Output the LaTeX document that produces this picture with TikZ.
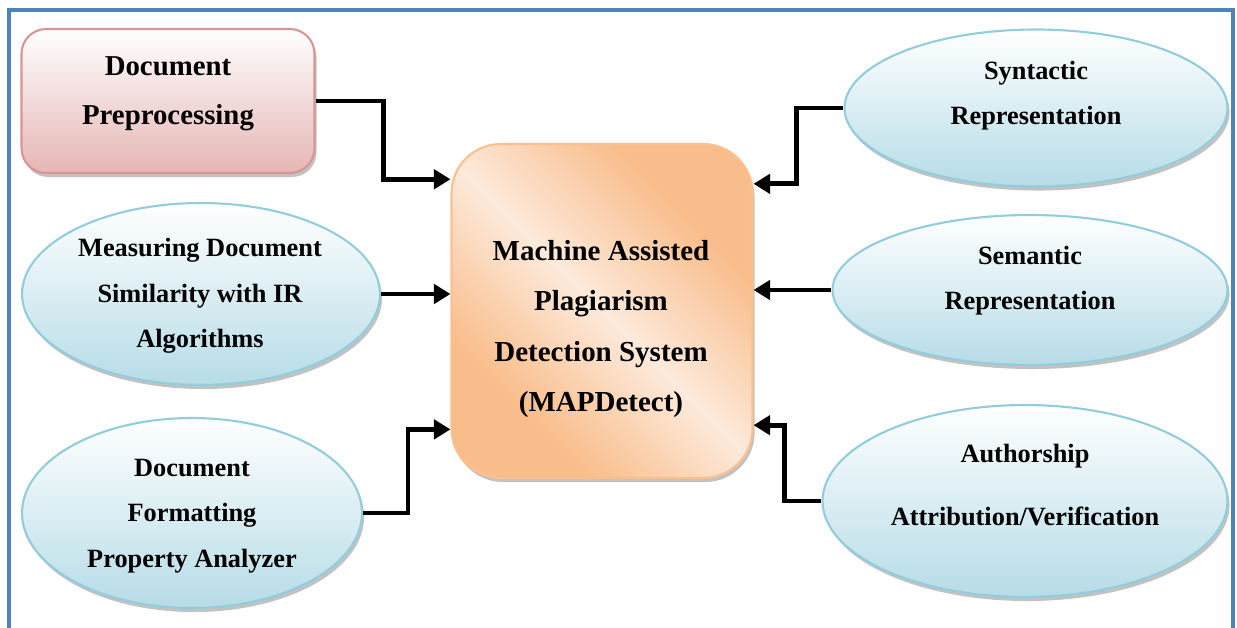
\documentclass[tikz,border=0pt]{standalone}
\usepackage{fontspec}
\setmainfont{Liberation Serif}
\usetikzlibrary{shapes.geometric,shadows,arrows.meta}

\definecolor{frameblue}{HTML}{4F81BD}
\definecolor{pinkline}{HTML}{D99594}
\definecolor{pinkfill}{HTML}{E5B6B5}
\definecolor{orangeline}{HTML}{FAC090}
\definecolor{orangedark}{HTML}{F9BD8B}
\definecolor{orangelight}{HTML}{FDEADB}
\definecolor{blueline}{HTML}{92CDDC}
\definecolor{bluefill}{HTML}{B6DCE7}

\pgfdeclarehorizontalshading{orangeband}{100bp}{%
  color(0bp)=(orangedark); color(30bp)=(orangedark);
  color(50bp)=(orangelight); color(70bp)=(orangedark);
  color(100bp)=(orangedark)}

\begin{document}
\begin{tikzpicture}[x=0.02cm, y=-0.02cm,
  shade/.style={drop shadow={shadow xshift=1.2pt, shadow yshift=-2.3pt,
                opacity=0.4, fill=black!60}},
  bluebubble/.style={ellipse, draw=blueline, line width=1.2pt,
                top color=white, bottom color=bluefill, shade},
  label/.style={align=center, font=\fontsize{15}{26}\selectfont\bfseries},
  biglabel/.style={align=center, font=\fontsize{16.5}{28.5}\selectfont\bfseries},
  link/.style={line width=2.8pt, -{Triangle[length=9.5pt,width=11pt]}}]
  \useasboundingbox (0,0) rectangle (1237,628);

  % Outer frame (open at the bottom)
  \draw[frameblue, line width=2pt] (9,628) -- (9,10) -- (1233,10) -- (1233,628);

  % Central system
  \node[rectangle, rounded corners=28pt, draw=orangeline, line width=1.2pt,
        shading=orangeband, shading angle=45, shade,
        minimum width=6.02cm, minimum height=6.68cm] (center) at (602,311) {};
  \node[biglabel] (center-txt) at (601,329)
        {Machine Assisted\\Plagiarism\\Detection System\\(MAPDetect)};

  % Left side modules
  \node[rectangle, rounded corners=14pt, draw=pinkline, line width=1.2pt,
        top color=white, bottom color=pinkfill, shade,
        minimum width=5.86cm, minimum height=2.88cm] (preproc) at (168,101) {};
  \node[biglabel, font=\fontsize{16.4}{27.8}\selectfont\bfseries] (preproc-txt) at (168,93.5)
        {Document\\Preprocessing};

  \node[bluebubble, minimum width=7.16cm, minimum height=3.64cm] (measure) at (201,294) {};
  \node[label] (measure-txt) at (200,296)
        {Measuring Document\\Similarity with IR\\Algorithms};

  \node[bluebubble, minimum width=6.8cm, minimum height=3.8cm] (format) at (192,513) {};
  \node[label] (format-txt) at (192,516)
        {Document\\Formatting\\Property Analyzer};

  % Right side modules
  \node[bluebubble, minimum width=7.66cm, minimum height=3.14cm] (syntax) at (1036,108) {};
  \node[label, font=\fontsize{15}{25.5}\selectfont\bfseries] (syntax-txt) at (1036,95.5)
        {Syntactic\\Representation};

  \node[bluebubble, minimum width=7.9cm, minimum height=3.0cm] (seman) at (1030,290) {};
  \node[label, font=\fontsize{15}{25.5}\selectfont\bfseries] (seman-txt) at (1030,280.5)
        {Semantic\\Representation};

  \node[bluebubble, minimum width=8.1cm, minimum height=3.84cm] (author) at (1025,501) {};
  \node[label, font=\fontsize{15}{35.7}\selectfont\bfseries] (author-txt) at (1025,485)
        {Authorship\\Attribution/Verification};

  % Connectors into the system
  \draw[link] (preproc.east) -- ++(68,0) |- (center.139.3);
  \draw[link] (measure.east) -- (measure.east -| center.west);
  \draw[link] (format.east) -- ++(45,0) |- (center.218.4);
  \draw[link] (syntax.west) -- ++(-47,0) |- (center.40);
  \draw[link] (seman.west) -- (seman.west -| center.east);
  \draw[link] (author.west) -- ++(-37,0) |- (center.-37.5);
\end{tikzpicture}
\end{document}
